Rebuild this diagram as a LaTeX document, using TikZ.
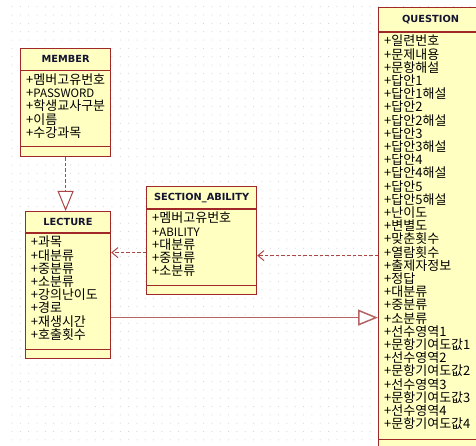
\documentclass[tikz,border=0pt]{standalone}
\usepackage{fontspec}
\newfontfamily\krfont{Noto Sans CJK KR}
\newfontfamily\titlefont{DejaVu Sans}
\usetikzlibrary{arrows.meta,positioning}
\definecolor{classred}{RGB}{160,40,40}
\definecolor{classfill}{RGB}{255,255,194}
\definecolor{linkred}{RGB}{170,70,70}
\definecolor{genred}{RGB}{180,100,100}
\definecolor{titleink}{RGB}{20,20,50}

\begin{document}
\begin{tikzpicture}
    [x=1pt, y=-1pt,
    classbox/.style={draw=classred, fill=classfill, line width=1.2pt, inner sep=0pt, anchor=north west},
    classtitle/.style={font=\titlefont\bfseries\fontsize{9.8}{11}\selectfont, text=titleink, text height=7pt, text depth=0pt, inner sep=0pt},
    attrlist/.style={font=\krfont\fontsize{13}{13.2}\selectfont, align=left, inner sep=0pt, anchor=north west},
    classsep/.style={draw=classred, line width=1.2pt},
    realize/.style={draw=linkred, line width=1pt, dash pattern=on 3.5pt off 2pt, -{Triangle[length=20pt, width=16pt, fill=white]}},
    depend/.style={draw=linkred, line width=1pt, dash pattern=on 3.5pt off 2pt, -{Straight Barb[length=6pt, width=10pt]}},
    generalize/.style={draw=genred, line width=1.5pt, -{Triangle[length=20pt, width=16pt, fill=white]}},
    griddot/.style={fill=gray!40}]
        \clip (0,0) rectangle (476,446);
        \fill[white] (0,0) rectangle (476,446);
        % dot grid
        \foreach \gx in {0,...,55}
            \foreach \gy in {0,...,53}
                \fill[griddot] (12+\gx*8.33, 6.7+\gy*8.33) circle (0.5pt);

        % MEMBER
        \node[classbox, minimum width=90pt, minimum height=108pt] (member) at (20,48) {};
        \node[classtitle] (membertitle) at ([yshift=-11.3pt]member.north) {MEMBER};
        \draw[classsep] ([yshift=-22.7pt]member.north west) -- ([yshift=-22.7pt]member.north east);
        \draw[classsep] ([yshift=10.3pt]member.south west) -- ([yshift=10.3pt]member.south east);
        \node[attrlist] (memberattr) at ([xshift=6pt, yshift=-25.5pt]member.north west)
            {+멤버고유번호\\+{\fontsize{11.5}{13.2}\selectfont PASSWORD}\\+학생교사구분\\+이름\\+수강과목};

        % LECTURE
        \node[classbox, minimum width=85.3pt, minimum height=147pt] (lecture) at (24.7,211) {};
        \node[classtitle] (lecturetitle) at ([yshift=-11pt]lecture.north) {LECTURE};
        \draw[classsep] ([yshift=-22pt]lecture.north west) -- ([yshift=-22pt]lecture.north east);
        \draw[classsep] ([yshift=10pt]lecture.south west) -- ([yshift=10pt]lecture.south east);
        \node[attrlist] (lectureattr) at ([xshift=6pt, yshift=-25pt]lecture.north west)
            {+과목\\+대분류\\+중분류\\+소분류\\+강의난이도\\+경로\\+재생시간\\+호출횟수};

        % SECTION_ABILITY
        \node[classbox, minimum width=110pt, minimum height=108pt] (section) at (146,186) {};
        \node[classtitle] (sectiontitle) at ([yshift=-11.5pt]section.north) {SECTION\_ABILITY};
        \draw[classsep] ([yshift=-23pt]section.north west) -- ([yshift=-23pt]section.north east);
        \draw[classsep] ([yshift=10pt]section.south west) -- ([yshift=10pt]section.south east);
        \node[attrlist] (sectionattr) at ([xshift=6pt, yshift=-26pt]section.north west)
            {+멤버고유번호\\+{\fontsize{11.5}{13.2}\selectfont ABILITY}\\+대분류\\+중분류\\+소분류};

        % QUESTION
        \node[classbox, minimum width=104pt, minimum height=441pt] (question) at (378,7) {};
        \node[classtitle] (questiontitle) at ([yshift=-12.5pt]question.north) {QUESTION};
        \draw[classsep] ([yshift=-25pt]question.north west) -- ([yshift=-25pt]question.north east);
        \draw[classsep] ([yshift=10pt]question.south west) -- ([yshift=10pt]question.south east);
        \node[attrlist] (questionattr) at ([xshift=6pt, yshift=-28pt]question.north west)
            {+일련번호\\+문제내용\\+문항해설\\+답안1\\+답안1해설\\+답안2\\+답안2해설\\+답안3\\+답안3해설\\+답안4\\+답안4해설\\+답안5\\+답안5해설\\+난이도\\+변별도\\+맞춘횟수\\+열람횟수\\+출제자정보\\+정답\\+대분류\\+중분류\\+소분류\\+선수영역1\\+문항기여도값1\\+선수영역2\\+문항기여도값2\\+선수영역3\\+문항기여도값3\\+선수영역4\\+문항기여도값4};

        % connectors
        \coordinate (dep1) at ([yshift=32.5pt]lecture.east);
        \coordinate (dep2) at ([yshift=-15pt]section.east);
        \coordinate (gen1) at ([yshift=-32.5pt]lecture.east);

        \draw[realize] (member.south) -- (member.south |- lecture.north);
        \draw[depend] (dep1 -| section.west) -- (dep1);
        \draw[depend] (dep2 -| question.west) -- (dep2);
        \draw[generalize] (gen1) -- (gen1 -| question.west);
   \end{tikzpicture}
\end{document}
